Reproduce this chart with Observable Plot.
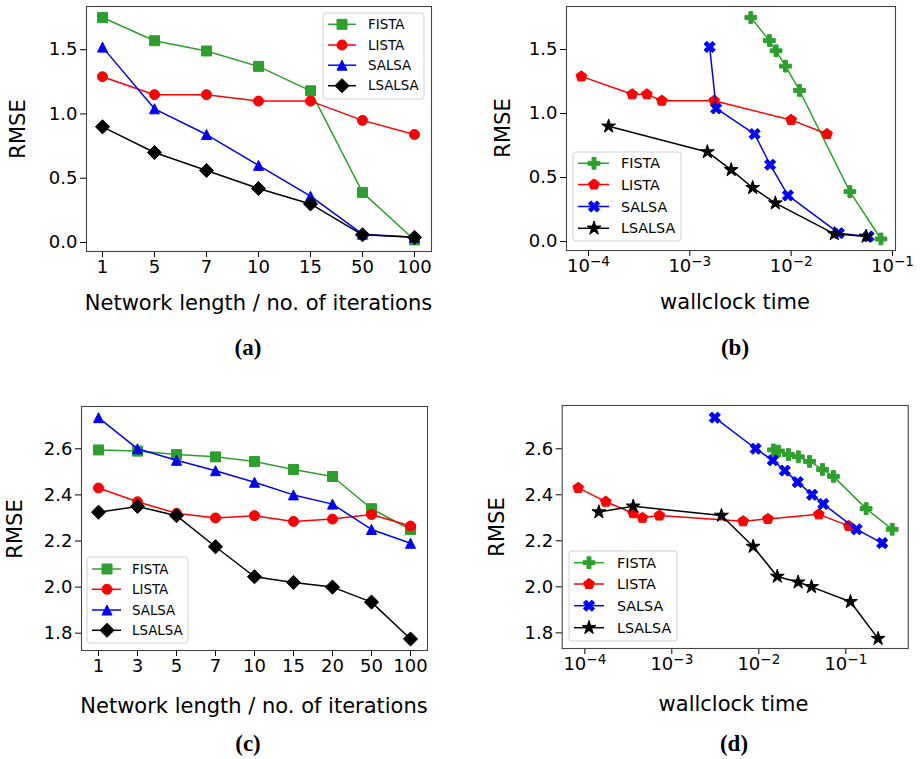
<!DOCTYPE html>
<html><head><meta charset="utf-8">
<script src="https://cdn.jsdelivr.net/npm/d3@7"></script>
<script src="https://cdn.jsdelivr.net/npm/@observablehq/plot@0.6"></script>
<style>
html,body{margin:0;padding:0;background:#fff;}
#root{position:relative;width:920px;height:759px;overflow:hidden;font-family:"DejaVu Sans",sans-serif;background:#fff;}
#root svg{position:absolute;}
.lab{position:absolute;white-space:nowrap;font-size:21px;color:#000;transform:translate(-50%,-50%);line-height:1;}
.ylab{transform:translate(-50%,-50%) rotate(-90deg);}
.sub{font-family:"Liberation Serif",serif;font-weight:bold;font-size:23px;}
</style></head><body><div id="root"></div>
<script>
// ---------- data ----------
const seriesNames = ["FISTA", "LISTA", "SALSA", "LSALSA"];
const seriesColors = ["#2ca02c", "#ff0000", "#0000ff", "#000000"];

// (a) network length vs RMSE
const itersA = ["1", "5", "7", "10", "15", "50", "100"];
const fistaA  = [1.75, 1.57, 1.49, 1.37, 1.18, 0.39, 0.02];
const listaA  = [1.29, 1.15, 1.15, 1.10, 1.10, 0.95, 0.84];
const salsaA  = [1.52, 1.04, 0.84, 0.60, 0.36, 0.065, 0.04];
const lsalsaA = [0.90, 0.70, 0.56, 0.42, 0.30, 0.06, 0.04];

// (b) wallclock time for the same runs
const fistaTimeB  = [4.0e-3, 6.1e-3, 7.1e-3, 8.8e-3, 1.21e-2, 3.8e-2, 7.7e-2];
const listaTimeB  = [8.5e-5, 2.7e-4, 3.77e-4, 5.3e-4, 1.74e-3, 1.0e-2, 2.26e-2];
const salsaTimeB  = [1.57e-3, 1.82e-3, 4.36e-3, 6.2e-3, 9.3e-3, 2.95e-2, 5.8e-2];
const lsalsaTimeB = [1.58e-4, 1.49e-3, 2.56e-3, 4.17e-3, 6.98e-3, 2.67e-2, 5.5e-2];

// (c) network length vs RMSE
const itersC = ["1", "3", "5", "7", "10", "15", "20", "50", "100"];
const fistaC  = [2.595, 2.59, 2.575, 2.565, 2.545, 2.51, 2.48, 2.34, 2.25];
const listaC  = [2.43, 2.37, 2.32, 2.30, 2.31, 2.285, 2.295, 2.315, 2.265];
const salsaC  = [2.735, 2.60, 2.55, 2.505, 2.455, 2.40, 2.36, 2.25, 2.19];
const lsalsaC = [2.325, 2.35, 2.31, 2.175, 2.045, 2.02, 2.00, 1.935, 1.775];

// (d) wallclock time for the same runs
const fistaTimeD  = [1.47e-2, 1.68e-2, 2.19e-2, 2.85e-2, 3.83e-2, 5.4e-2, 7.2e-2, 0.171, 0.341];
const listaTimeD  = [8.4e-5, 1.74e-4, 3.6e-4, 4.6e-4, 7.2e-4, 6.6e-3, 1.27e-2, 4.9e-2, 0.108];
const salsaTimeD  = [3.12e-3, 9.2e-3, 1.45e-2, 1.99e-2, 2.8e-2, 4.1e-2, 5.5e-2, 0.133, 0.262];
const lsalsaTimeD = [1.45e-4, 3.6e-4, 3.72e-3, 8.6e-3, 1.63e-2, 2.83e-2, 4.03e-2, 0.113, 0.235];

const yTicksAB = [0, 0.5, 1.0, 1.5];
const yTicksCD = [1.8, 2.0, 2.2, 2.4, 2.6];
const logTicks = [1e-4, 1e-3, 1e-2, 1e-1];

// ---------- marker shapes (matplotlib-like) ----------
function shape(fn, k) {
  return { draw(ctx, size) { const R = Math.sqrt(size / Math.PI) * (k || 1); fn(ctx, R); } };
}
function poly(ctx, pts) {
  ctx.moveTo(pts[0][0], pts[0][1]);
  for (let i = 1; i < pts.length; i++) ctx.lineTo(pts[i][0], pts[i][1]);
  ctx.closePath();
}
const SYM = {
  square: shape((c, R) => poly(c, [[-R,-R],[R,-R],[R,R],[-R,R]])),
  circle: shape((c, R) => { c.moveTo(R, 0); c.arc(0, 0, R, 0, 2 * Math.PI); }),
  triangle: shape((c, R) => poly(c, [[0,-R],[R,R],[-R,R]])),
  diamond: shape((c, R) => { const D = R * 1.414; poly(c, [[0,-D],[D,0],[0,D],[-D,0]]); }),
  plus: shape((c, R) => { const a = R / 3;
    poly(c, [[-a,-R],[a,-R],[a,-a],[R,-a],[R,a],[a,a],[a,R],[-a,R],[-a,a],[-R,a],[-R,-a],[-a,-a]]); }, 1.05),
  xfill: shape((c, R) => { const k = R / 2;
    const p = [[-1,-2],[0,-1],[1,-2],[2,-1],[1,0],[2,1],[1,2],[0,1],[-1,2],[-2,1],[-1,0],[-2,-1]];
    poly(c, p.map(([x, y]) => [x * k, y * k])); }),
  pentagon: shape((c, R) => { const p = [];
    for (let i = 0; i < 5; i++) { const t = -Math.PI / 2 + i * 2 * Math.PI / 5; p.push([R * Math.cos(t), R * Math.sin(t)]); }
    poly(c, p); }),
  star: shape((c, R) => { const p = [];
    for (let i = 0; i < 10; i++) { const r = i % 2 ? R * 0.381966 : R; const t = -Math.PI / 2 + i * Math.PI / 5; p.push([r * Math.cos(t), r * Math.sin(t)]); }
    poly(c, p); }, 1.3)
};

// ---------- helpers ----------
const root = document.getElementById("root");
const fmt1 = d3.format(".1f");
function logFmt(v) { return "10^" + Math.round(Math.log10(v)); }

function makePanel(cfg) {
  const marks = [];
  cfg.series.forEach((s, i) => {
    const rows = s.x.map((xv, j) => ({ x: xv, y: s.y[j] }));
    marks.push(Plot.line(rows, { x: "x", y: "y", stroke: seriesColors[i], strokeWidth: 1.5 }));
    marks.push(Plot.dot(rows, { x: "x", y: "y", symbol: cfg.symbols[i], r: cfg.r,
      fill: seriesColors[i], stroke: seriesColors[i], strokeWidth: 1 }));
  });
  marks.push(Plot.frame({ stroke: "#444", strokeWidth: 1.1 }));
  const svg = Plot.plot({
    width: cfg.width, height: cfg.height,
    marginTop: cfg.mt, marginRight: cfg.mr, marginBottom: cfg.mb, marginLeft: cfg.ml,
    style: { fontFamily: "DejaVu Sans", fontSize: "18px", background: "transparent", color: "#000", overflow: "visible" },
    x: cfg.x, y: cfg.y, marks
  });
  svg.style.left = cfg.left + "px";
  svg.style.top = cfg.top + "px";
  // superscript exponents for log tick labels
  svg.querySelectorAll("text").forEach(t => {
    const m = /^10\^(-?\d+)$/.exec(t.textContent);
    if (m) {
      t.textContent = "";
      const a = document.createElementNS("http://www.w3.org/2000/svg", "tspan");
      a.textContent = "10";
      const b = document.createElementNS("http://www.w3.org/2000/svg", "tspan");
      b.textContent = m[1].replace("-", "\u2212");
      b.setAttribute("dy", "-0.45em");
      b.setAttribute("font-size", "0.75em");
      t.appendChild(a); t.appendChild(b);
    }
  });
  root.appendChild(svg);
}

const symsL = [SYM.square, SYM.circle, SYM.triangle, SYM.diamond];
const symsT = [SYM.plus, SYM.pentagon, SYM.xfill, SYM.star];

// (a)
makePanel({
  left: 0, top: 0, width: 460, height: 320, mt: 6, mr: 29, mb: 69, ml: 86,
  x: { type: "point", domain: itersA, padding: 0, insetLeft: 15, insetRight: 16, label: null, tickSize: 6 },
  y: { domain: [-0.07, 1.836], ticks: yTicksAB, tickFormat: fmt1, label: null, tickSize: 6 },
  series: [fistaA, listaA, salsaA, lsalsaA].map(y => ({ x: itersA, y })),
  symbols: symsL, r: 5
});
// (b)
makePanel({
  left: 460, top: 0, width: 460, height: 320, mt: 6, mr: 25, mb: 70, ml: 106,
  x: { type: "log", domain: [Math.pow(10, -4.217), Math.pow(10, -0.97)], ticks: logTicks, tickFormat: logFmt, label: null, tickSize: 6 },
  y: { domain: [-0.07, 1.836], ticks: yTicksAB, tickFormat: fmt1, label: null, tickSize: 6 },
  series: [[fistaTimeB, fistaA], [listaTimeB, listaA], [salsaTimeB, salsaA], [lsalsaTimeB, lsalsaA]].map(([x, y]) => ({ x, y })),
  symbols: symsT, r: 5.6
});
// (c)
makePanel({
  left: 0, top: 400, width: 460, height: 320, mt: 6, mr: 33, mb: 70, ml: 81,
  x: { type: "point", domain: itersC, padding: 0, insetLeft: 15.3, insetRight: 16, label: null, tickSize: 6 },
  y: { domain: [1.725, 2.7835], ticks: yTicksCD, tickFormat: fmt1, label: null, tickSize: 6 },
  series: [fistaC, listaC, salsaC, lsalsaC].map(y => ({ x: itersC, y })),
  symbols: symsL, r: 5
});
// (d)
makePanel({
  left: 460, top: 400, width: 460, height: 320, mt: 5, mr: 12.3, mb: 72, ml: 101.7,
  x: { type: "log", domain: [Math.pow(10, -4.26), Math.pow(10, -0.283)], ticks: logTicks, tickFormat: logFmt, label: null, tickSize: 6 },
  y: { domain: [1.732, 2.788], ticks: yTicksCD, tickFormat: fmt1, label: null, tickSize: 6 },
  series: [[fistaTimeD, fistaC], [listaTimeD, listaC], [salsaTimeD, salsaC], [lsalsaTimeD, lsalsaC]].map(([x, y]) => ({ x, y })),
  symbols: symsT, r: 5.6
});

// ---------- legends ----------
const ov = d3.select(root).append("svg").attr("width", 920).attr("height", 759)
  .style("left", "0px").style("top", "0px").style("pointer-events", "none");
const legends = [
  { box: [323, 13, 101, 86], rows: [24.3, 45, 65.2, 85.7], line: [328, 356], mx: 342, tx: 368, fs: 13.4, syms: symsL, r: 5 },
  { box: [573, 152, 108, 89], rows: [163.3, 184.5, 206.5, 228.3], line: [578, 609], mx: 594, tx: 621, fs: 14.3, syms: symsT, r: 5.6 },
  { box: [87, 557, 101, 86], rows: [569, 589.3, 610, 630.3], line: [92, 121], mx: 107, tx: 132, fs: 13.4, syms: symsL, r: 5 },
  { box: [569, 551, 108, 90], rows: [562.7, 584, 605.7, 627.7], line: [574, 604], mx: 589, tx: 617, fs: 14.3, syms: symsT, r: 5.6 }
];
legends.forEach(L => {
  const g = ov.append("g");
  g.append("rect").attr("x", L.box[0]).attr("y", L.box[1]).attr("width", L.box[2]).attr("height", L.box[3])
    .attr("rx", 3).attr("fill", "#fff").attr("fill-opacity", 0.85).attr("stroke", "#d0d0d0").attr("stroke-width", 1);
  seriesNames.forEach((name, i) => {
    const y = L.rows[i];
    g.append("line").attr("x1", L.line[0]).attr("x2", L.line[1]).attr("y1", y).attr("y2", y)
      .attr("stroke", seriesColors[i]).attr("stroke-width", 1.5);
    const p = d3.path();
    L.syms[i].draw(p, L.r * L.r * Math.PI);
    g.append("path").attr("d", p.toString()).attr("transform", `translate(${L.mx},${y})`)
      .attr("fill", seriesColors[i]).attr("stroke", seriesColors[i]).attr("stroke-width", 1);
    g.append("text").attr("x", L.tx).attr("y", y).attr("dominant-baseline", "central")
      .attr("font-family", "DejaVu Sans").attr("font-size", L.fs).attr("fill", "#000").text(name);
  });
});

// ---------- axis labels & panel tags ----------
function label(text, x, y, cls) {
  const d = document.createElement("div");
  d.className = "lab " + (cls || "");
  d.style.left = x + "px"; d.style.top = y + "px";
  d.textContent = text;
  root.appendChild(d);
}
label("RMSE", 18.3, 128.5, "ylab");
label("RMSE", 503.3, 128, "ylab");
label("RMSE", 15, 529, "ylab");
label("RMSE", 496.7, 527, "ylab");
label("Network length / no. of iterations", 258.5, 303);
label("wallclock time", 735, 301.7);
label("Network length / no. of iterations", 254, 706);
label("wallclock time", 733.5, 704);
label("(a)", 248, 347, "sub");
label("(b)", 735, 347, "sub");
label("(c)", 248, 743, "sub");
label("(d)", 734, 743, "sub");
</script></body></html>
